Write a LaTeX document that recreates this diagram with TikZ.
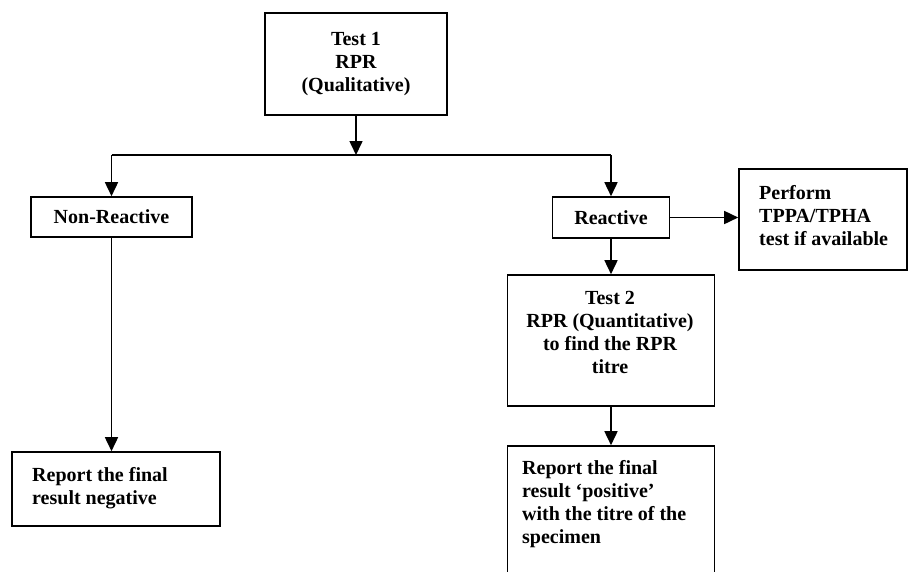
\documentclass[tikz,border=0pt]{standalone}
\usepackage{fontspec}
\setmainfont{Liberation Serif}
\usetikzlibrary{arrows.meta}
\begin{document}
\begin{tikzpicture}[x=1pt,y=-1pt,
  box/.style={draw, line width=1.6pt, inner sep=0pt},
  txt/.style={font=\fontsize{20}{23}\selectfont\bfseries, inner sep=0pt},
  conn/.style={line width=1.6pt},
  arr/.style={line width=1.6pt, -{Triangle[length=14pt,width=13pt]}}]
\clip (0,0) rectangle (909,571);
\fill[white] (0,0) rectangle (909,571);

% boxes
\node[box, txt, align=center, minimum width=182pt, minimum height=102pt] (t1) at (356,64)
  {Test 1\\RPR\\(Qualitative)};
\node[box, txt, minimum width=161pt, minimum height=40pt] (nr) at (111.5,217) {Non-Reactive};
\node[box, txt, minimum width=117pt, minimum height=41pt] (re) at (611,217.5) {Reactive};
\node[box, minimum width=168pt, minimum height=101pt] (pf) at (823,219.5) {};
\node[box, minimum width=207pt, minimum height=131pt] (t2) at (611,340.5) {};
\node[box, minimum width=208pt, minimum height=74pt] (rn) at (116,489) {};
\node[box, minimum width=207pt, minimum height=160pt] (rp) at (611,526) {};

% texts
\node[txt, align=left, anchor=north west] (pftxt) at (759,185)
  {Perform\\TPPA/TPHA\\test if available};
\node[txt, align=center, anchor=north] (t2txt) at (610,291)
  {Test 2\\RPR (Quantitative)\\to find the RPR\\titre};
\node[txt, align=left, anchor=north west] (rntxt) at (32,467)
  {Report the final\\result negative};
\node[txt, align=left, anchor=north west] (rptxt) at (522,460)
  {Report the final\\result ‘positive’\\with the titre of the\\specimen};

% connectors
\coordinate (sl) at (111.5,155);
\coordinate (sr) at (611,155);
\draw[conn] (sl) -- (sr);
\draw[arr] (t1.south) -- (t1.south |- sl);
\draw[arr] (sl) -- (nr.north);
\draw[arr] (sr) -- (re.north);
\draw[arr] (re.east) -- (re.east -| pf.west);
\draw[arr] (re.south) -- (t2.north);
\draw[arr] (nr.south) -- (nr.south |- rn.north);
\draw[arr] (t2.south) -- (rp.north);
\end{tikzpicture}
\end{document}
